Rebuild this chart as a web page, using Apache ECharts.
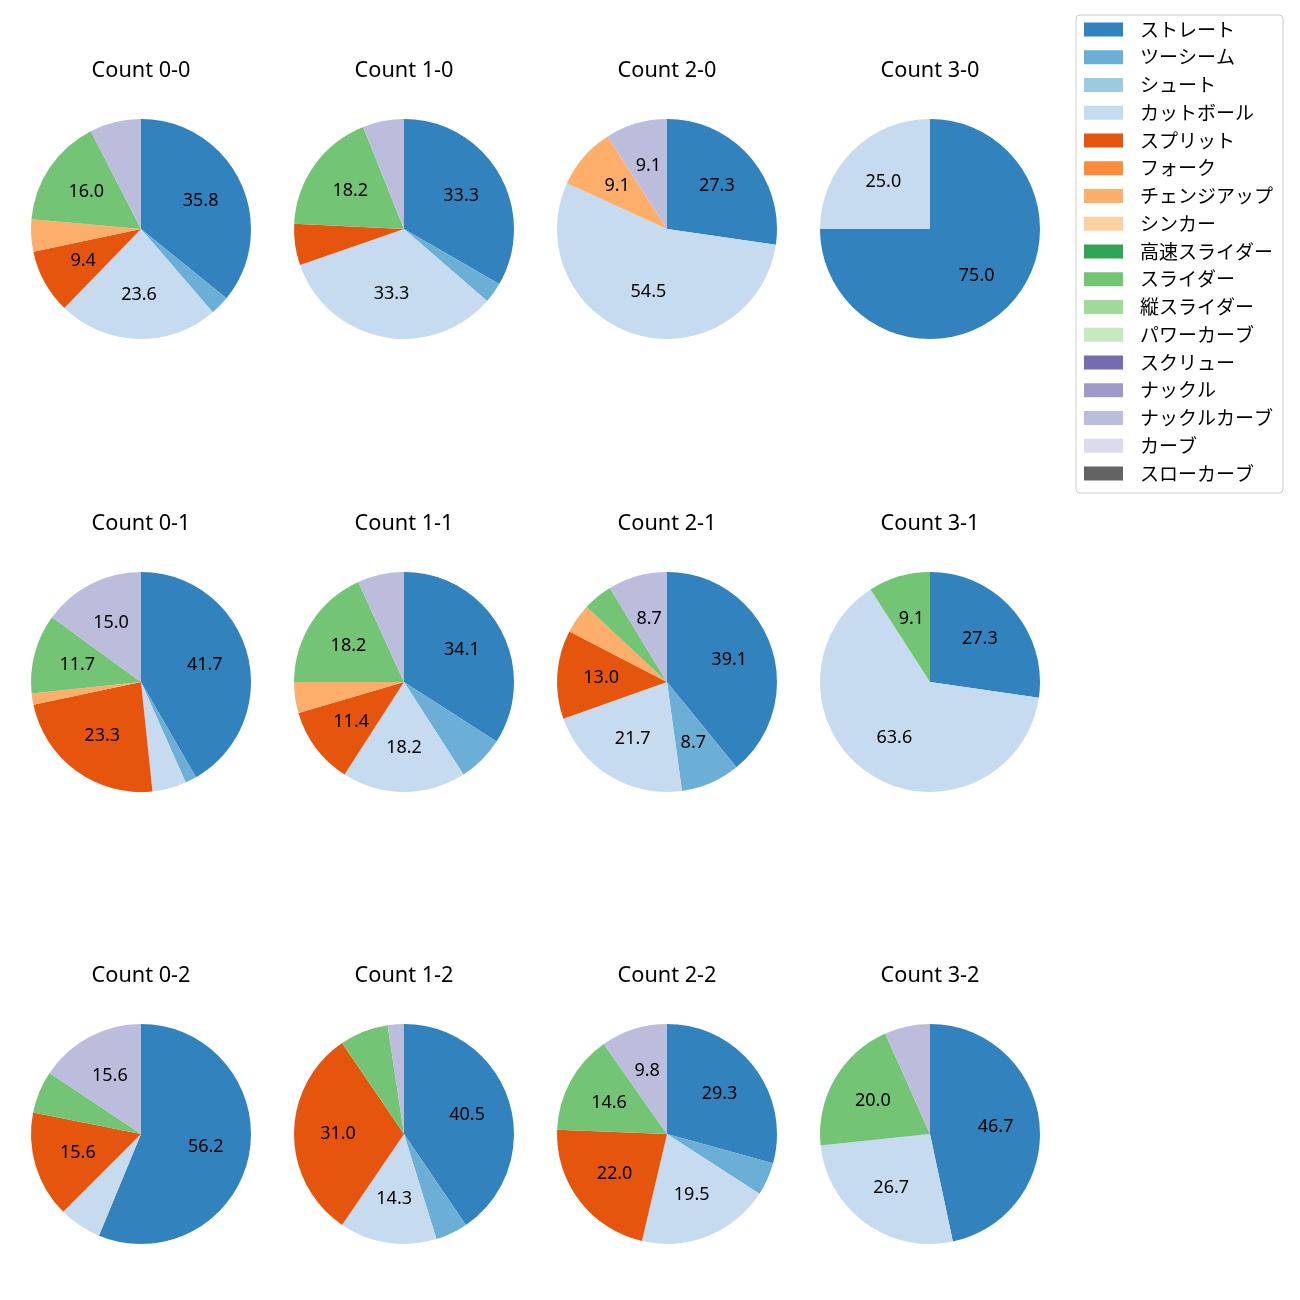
<!DOCTYPE html>
<html>
<head>
<meta charset="utf-8">
<script src="https://cdn.jsdelivr.net/npm/echarts@6/dist/echarts.min.js"></script>
<style>
html,body{margin:0;padding:0;background:#fff;}
#chart{width:1300px;height:1300px;}
</style>
</head>
<body>
<div id="chart"></div>
<script>
const pitchTypes = ['ストレート','ツーシーム','シュート','カットボール','スプリット','フォーク','チェンジアップ','シンカー','高速スライダー','スライダー','縦スライダー','パワーカーブ','スクリュー','ナックル','ナックルカーブ','カーブ','スローカーブ'];
const pitchColors = ['#3182bd','#6baed6','#9ecae1','#c6dbef','#e6550d','#fd8d3c','#fdae6b','#fdd0a2','#31a354','#74c476','#a1d99b','#c7e9c0','#756bb1','#9e9ac8','#bcbddc','#dadaeb','#636363'];

// counts per pitch type (same order as pitchTypes)
const count00 = [38,3,0,25,10,0,5,0,0,17,0,0,0,0,8,0,0];
const count10 = [11,1,0,11,2,0,0,0,0,6,0,0,0,0,2,0,0];
const count20 = [3,0,0,6,0,0,1,0,0,0,0,0,0,0,1,0,0];
const count30 = [3,0,0,1,0,0,0,0,0,0,0,0,0,0,0,0,0];
const count01 = [25,1,0,3,14,0,1,0,0,7,0,0,0,0,9,0,0];
const count11 = [15,3,0,8,5,0,2,0,0,8,0,0,0,0,3,0,0];
const count21 = [9,2,0,5,3,0,1,0,0,1,0,0,0,0,2,0,0];
const count31 = [3,0,0,7,0,0,0,0,0,1,0,0,0,0,0,0,0];
const count02 = [18,0,0,2,5,0,0,0,0,2,0,0,0,0,5,0,0];
const count12 = [17,2,0,6,13,0,0,0,0,3,0,0,0,0,1,0,0];
const count22 = [12,2,0,8,9,0,0,0,0,6,0,0,0,0,4,0,0];
const count32 = [7,0,0,4,0,0,0,0,0,3,0,0,0,0,1,0,0];

const countTitles = ['Count 0-0','Count 1-0','Count 2-0','Count 3-0',
                     'Count 0-1','Count 1-1','Count 2-1','Count 3-1',
                     'Count 0-2','Count 1-2','Count 2-2','Count 3-2'];
const countData = [count00,count10,count20,count30,count01,count11,count21,count31,count02,count12,count22,count32];

const colX = [141,404,667,930];
const rowY = [229,682,1134];
const R = 110;
const labelThreshold = 8;
const latinFont = '"Noto Sans", "Noto Sans CJK JP", sans-serif';

// round half to even, one decimal (like Python's '%1.1f')
function fmt1(x) {
  const s = x * 10;
  const f = Math.floor(s);
  const d = s - f;
  let r;
  if (Math.abs(d - 0.5) < 1e-9) r = (f % 2 === 0) ? f : f + 1;
  else r = Math.round(s);
  return (r / 10).toFixed(1);
}

const titles = [];
const pieSeries = [];
const labelSeries = [];
countData.forEach((vals, i) => {
  const cx = colX[i % 4], cy = rowY[Math.floor(i / 4)];
  const total = vals.reduce((a, b) => a + b, 0);
  titles.push({
    text: countTitles[i], left: cx, top: cy - 169, textAlign: 'center', padding: 0,
    textStyle: {fontFamily: latinFont, fontSize: 21.7, fontWeight: 'normal', color: '#000'}
  });
  pieSeries.push({
    type: 'pie', center: [cx, cy], radius: [0, R], startAngle: 90, clockwise: true,
    animation: false, silent: true, label: {show: false}, labelLine: {show: false},
    emphasis: {disabled: true, scale: false},
    data: pitchTypes.map((n, k) => ({name: n, value: vals[k], itemStyle: {color: pitchColors[k], borderWidth: 0}}))
  });
  labelSeries.push({
    type: 'pie', center: [cx, cy], radius: [16, R], startAngle: 90, clockwise: true,
    animation: false, silent: true, legendHoverLink: false, avoidLabelOverlap: false,
    emphasis: {disabled: true, scale: false}, labelLine: {show: false},
    itemStyle: {color: 'rgba(0,0,0,0)', borderWidth: 0},
    data: pitchTypes.map((n, k) => {
      const pct = total ? vals[k] / total * 100 : 0;
      return {
        name: n, value: vals[k],
        itemStyle: {color: 'rgba(0,0,0,0)'},
        label: {show: pct >= labelThreshold, position: 'inside', formatter: fmt1(pct),
                color: '#000', fontFamily: latinFont, fontSize: 18}
      };
    })
  });
});

const chart = echarts.init(document.getElementById('chart'), null, {renderer: 'canvas'});
chart.setOption({
  backgroundColor: '#fff',
  animation: false,
  title: titles,
  legend: {
    data: pitchTypes, orient: 'vertical', left: 1076, top: 15,
    padding: [5, 10, 10, 8], itemWidth: 39, itemHeight: 14, itemGap: 8.75,
    borderColor: '#cccccc', borderWidth: 1, borderRadius: 4, backgroundColor: 'rgba(255,255,255,0.8)',
    selectedMode: false,
    icon: 'rect',
    textStyle: {fontFamily: '"Noto Sans CJK JP", sans-serif', fontSize: 19, lineHeight: 18, color: '#000', padding: [0,0,0,12]}
  },
  series: pieSeries.concat(labelSeries)
});
</script>
</body>
</html>
